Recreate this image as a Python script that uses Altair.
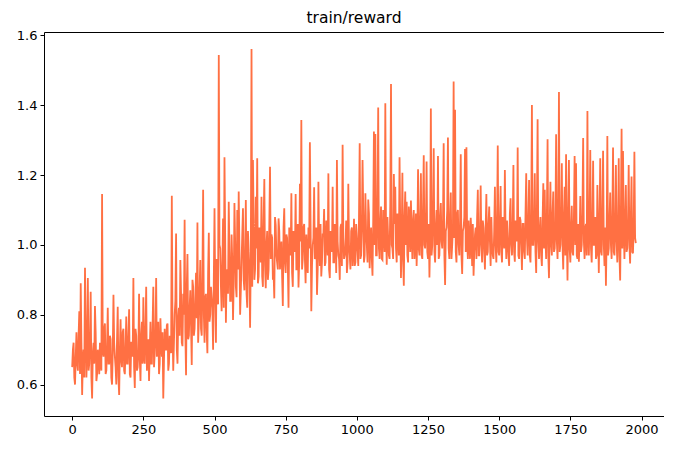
import altair as alt
import pandas as pd

TITLE = "train/reward"
STEP = 5

# spikes / excursions (every 5 steps)
seg_a = [0.65,0.72,0.60,0.75,0.64,0.81,0.89,0.57,0.70,0.935,
         0.62,0.905,0.66,0.866,0.56,0.72,0.825,0.61,0.70,0.63,
         0.66,1.146,0.68,0.775,0.64,0.82,0.66,0.73,0.60,0.857,
         0.68,0.60,0.823,0.57,0.787,0.65,0.76,0.63,0.795,0.66,
         0.816,0.62,0.72,0.905,0.59,0.74,0.65,0.86,0.61,0.78]
seg_b = [0.85,0.66,0.88,0.70,0.61,0.78,0.66,0.88,0.69,0.905,
         0.72,0.63,0.79,0.68,0.56,0.76,0.70,0.775,0.66,0.72,
         1.141,0.64,0.80,1.033,0.66,0.82,0.957,0.72,0.86,1.072,
         0.627,0.974,0.74,0.87,0.656,0.88,0.76,0.92,1.064,0.78,
         0.957,0.74,1.158,0.72,0.86,0.69,1.035,0.80,0.85,0.70]
seg_c = [1.105,0.72,0.85,1.544,0.99,0.81,1.076,1.251,0.777,0.93,
         1.124,0.84,1.03,0.785,1.12,0.88,1.10,1.153,0.80,0.95,
         1.105,0.87,1.129,0.82,0.98,0.763,1.561,1.243,0.90,1.138,
         1.248,0.91,1.03,1.138,0.88,1.189,0.876,1.04,0.93,1.224,
         1.03,0.90,0.847,1.057,0.95,1.076,0.93,1.01,0.825,1.105]
seg_d = [0.92,1.02,0.82,1.00,1.148,0.88,0.995,1.146,0.93,0.878,
         1.175,1.358,0.96,1.06,0.89,0.95,1.05,1.294,0.81,1.00,
         1.165,0.967,0.857,1.181,0.94,0.91,1.03,1.103,0.95,1.02,
         1.205,0.905,1.00,1.167,0.95,1.04,1.243,0.97,0.90,1.06,
         1.287,0.96,0.995,0.92,1.175,0.97,1.04,0.94,1.075,0.95]
seg_e = [1.02,0.94,1.291,0.97,1.243,0.95,1.148,1.00,1.13,0.933,
         1.05,0.912,1.325,1.318,0.97,1.394,0.96,1.11,0.957,1.05,
         1.406,0.943,1.02,0.96,1.461,0.99,1.203,1.167,0.95,1.05,
         1.251,0.905,1.207,0.883,1.153,1.124,0.95,1.07,1.127,0.96,
         1.10,1.00,0.94,1.217,0.97,1.205,0.96,1.257,0.99,1.239]
seg_f = [0.96,0.907,1.391,1.00,1.277,0.95,1.10,1.255,0.97,1.12,
         0.99,1.291,0.885,1.05,1.308,0.96,1.15,1.00,1.468,1.387,
         0.95,1.10,0.97,1.26,0.917,1.05,1.275,1.28,0.96,1.00,
         1.078,0.94,0.912,1.03,0.96,1.158,0.97,1.17,0.95,1.05,
         0.93,1.146,0.98,1.11,0.94,1.00,0.96,1.167,0.95,1.285]
seg_g = [0.97,1.169,0.95,1.05,1.215,0.96,1.02,0.94,1.134,0.97,
         1.229,0.952,1.04,1.279,0.96,1.07,0.928,1.06,0.96,1.205,
         0.97,1.186,0.95,1.401,1.00,1.205,0.92,1.36,0.96,1.08,
         0.94,1.177,1.158,0.96,1.303,0.905,1.181,0.97,1.153,0.99,
         1.317,0.96,1.438,1.00,1.234,0.93,1.167,1.26,0.898,1.243]
seg_h = [0.95,1.112,0.97,1.255,1.234,0.96,0.952,1.14,1.00,1.306,
         0.96,1.06,1.384,0.97,1.272,0.95,1.241,1.00,0.96,1.172,
         0.92,1.248,0.97,1.27,0.94,0.883,1.312,0.99,1.15,0.96,
         1.279,0.97,1.229,0.95,1.248,0.898,1.333,1.269,0.96,1.172,
         0.99,1.229,0.947,1.196,0.976,1.267,1.005]

# dense core band (steps in between)
core_a = [0.70,0.62,0.68,0.66,0.74,0.63,0.72,0.67,0.62,0.76,
          0.70,0.64,0.73,0.62,0.69,0.66,0.75,0.63,0.68,0.72,
          0.64,0.70,0.76,0.63,0.71,0.66,0.74,0.62,0.69,0.72,
          0.65,0.73,0.62,0.70,0.67,0.75,0.64,0.71,0.66,0.74,
          0.63,0.72,0.68,0.65,0.76,0.64,0.70,0.67,0.74,0.66]
core_b = [0.68,0.76,0.64,0.73,0.70,0.66,0.77,0.65,0.74,0.68,
          0.78,0.66,0.72,0.75,0.67,0.70,0.77,0.64,0.74,0.69,
          0.76,0.72,0.84,0.70,0.79,0.74,0.86,0.71,0.80,0.75,
          0.88,0.73,0.82,0.77,0.90,0.74,0.84,0.79,0.72,0.87,
          0.76,0.91,0.80,0.85,0.75,0.92,0.78,0.88,0.82,0.90]
core_c = [0.86,0.96,0.83,1.00,0.88,0.94,0.82,1.02,0.90,0.86,
          0.98,0.84,0.95,0.89,1.01,0.85,0.93,0.99,0.87,1.03,
          0.90,0.96,0.86,1.04,0.92,0.97,0.88,1.06,0.93,0.99,
          0.89,1.05,0.95,0.91,1.07,0.94,1.00,0.90,1.06,0.96,
          1.02,0.92,1.08,0.97,0.93,1.04,0.98,0.91,1.05,0.95]
core_d = [1.03,0.94,1.05,0.97,0.92,1.04,0.98,0.93,1.06,0.95,
          1.01,0.93,1.05,0.96,1.03,0.92,0.99,1.06,0.94,1.02,
          0.96,1.05,0.93,1.00,1.06,0.95,1.03,0.94,1.07,0.97,
          0.93,1.04,0.98,0.95,1.06,0.92,1.01,0.96,1.05,0.94,
          1.02,0.97,1.07,0.95,1.00,0.93,1.05,0.98,0.94,1.06]
core_e = [0.98,1.08,0.96,1.05,1.10,0.97,1.04,0.95,1.09,1.01,
          0.96,1.07,1.00,0.97,1.11,0.99,1.06,0.96,1.10,0.98,
          1.04,1.08,0.97,1.12,1.00,0.96,1.06,0.99,1.09,0.97,
          1.05,1.02,0.96,1.08,1.00,0.97,1.11,0.98,1.04,1.07,
          0.96,1.09,1.02,0.99,1.06,0.97,1.10,1.00,1.05,0.98]
core_f = [1.06,1.02,0.97,1.09,0.98,1.05,1.00,0.96,1.08,1.01,
          1.06,0.97,1.04,1.10,0.99,1.07,0.96,1.05,1.02,0.98,
          1.09,1.00,1.06,0.97,1.04,1.08,0.98,1.01,1.07,0.96,
          1.03,1.06,0.98,1.05,1.08,0.97,1.04,1.00,1.07,0.98,
          1.05,0.97,1.06,1.01,1.08,0.97,1.04,1.00,1.06,0.98]
core_g = [1.06,0.98,1.08,0.99,1.03,1.07,0.97,1.09,1.00,1.05,
          0.98,1.07,1.01,0.97,1.08,1.00,1.06,0.98,1.09,1.02,
          1.06,0.97,1.08,1.00,1.05,0.98,1.10,1.01,1.04,0.97,
          1.07,0.99,1.02,1.08,0.97,1.06,1.00,1.09,0.98,1.05,
          1.01,1.07,0.98,1.06,1.00,1.08,0.97,1.03,1.07,0.99]
core_h = [1.05,0.98,1.08,1.00,0.97,1.06,1.02,0.98,1.09,1.01,
          1.05,0.97,1.03,1.07,0.99,1.06,1.00,1.08,0.97,1.04,
          1.06,0.98,1.09,1.00,1.05,1.02,0.97,1.07,1.00,1.08,
          0.98,1.06,1.01,1.04,0.97,1.09,0.99,1.05,1.07,0.98,
          1.06,1.00,1.08,0.98,1.05,1.02]

x_ticks = [0, 250, 500, 750, 1000, 1250, 1500, 1750, 2000]
y_ticks = [0.6, 0.8, 1.0, 1.2, 1.4, 1.6]

main = seg_a + seg_b + seg_c + seg_d + seg_e + seg_f + seg_g + seg_h
core = core_a + core_b + core_c + core_d + core_e + core_f + core_g + core_h

rows = []
for i, v in enumerate(main):
    rows.append({"step": i * STEP, "reward": v})
    if i < len(core):
        rows.append({"step": i * STEP + STEP / 2, "reward": core[i]})
df = pd.DataFrame(rows)

FONT = "DejaVu Sans"

axis_common = dict(title=None, grid=False, labelFont=FONT, labelFontSize=13,
                   labelColor="black", tickColor="black", tickSize=4,
                   labelPadding=3, domain=False)

chart = (
    alt.Chart(df, title=alt.TitleParams(TITLE, fontSize=15.5, fontWeight="normal",
                                        font=FONT, color="black", offset=3))
    .mark_line(color="#ff7043", strokeWidth=1.8)
    .encode(
        x=alt.X("step:Q",
                scale=alt.Scale(domain=[-99, 2079], nice=False, zero=False),
                axis=alt.Axis(values=x_ticks, format="d", **axis_common)),
        y=alt.Y("reward:Q",
                scale=alt.Scale(domain=[0.51, 1.61], nice=False, zero=False),
                axis=alt.Axis(values=y_ticks, format=".1f", **axis_common)),
        order="step:Q",
    )
    .properties(width=620, height=384,
                autosize=alt.AutoSizeParams(type="none"),
                padding={"left": 36, "top": 24, "right": 0, "bottom": 22})
    .configure_view(stroke="black", strokeWidth=1, fill="white")
)

chart.save("out.html", embed_options={"renderer": "svg", "actions": False})
